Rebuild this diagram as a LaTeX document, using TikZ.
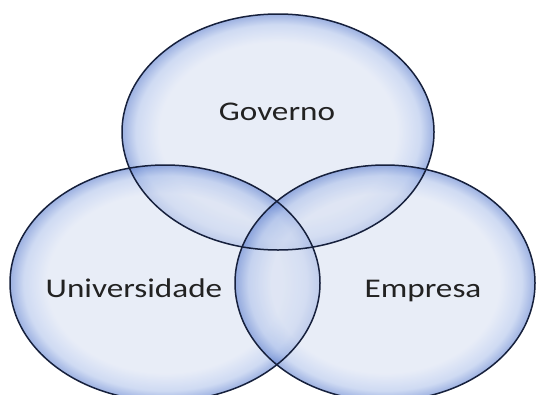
\documentclass[tikz,border=0pt]{standalone}
\usepackage{fontspec}
\setmainfont{Carlito}
\definecolor{pale}{HTML}{D8E0F2}
\definecolor{glowmid}{HTML}{ACC0EA}
\definecolor{glowblue}{HTML}{5679CC}
\definecolor{rimline}{HTML}{16203C}
\definecolor{txt}{HTML}{222222}
\pgfdeclareradialshading{bubble}{\pgfpointorigin}{color(0bp)=(pale); color(19bp)=(pale); color(22.8bp)=(glowmid); color(25bp)=(glowblue); color(50bp)=(glowblue)}
\tikzset{
  bubblefill/.style={shading=bubble, fill opacity=0.58},
  bubblerim/.style={draw=rimline, line width=1.5pt},
  lbl/.style={anchor=base, text=txt, font=\fontsize{27}{32}\selectfont, xscale=1.23, inner sep=0pt}
}
\begin{document}
\begin{tikzpicture}[x=1pt,y=-1pt]
\useasboundingbox (0,0) rectangle (537,394);
\begin{scope}
\clip (0,0) rectangle (537,394);
\shade[bubblefill] (278,132) ellipse [x radius=156, y radius=118];
\shade[bubblefill] (165,283) ellipse [x radius=155, y radius=118];
\shade[bubblefill] (385,283) ellipse [x radius=150, y radius=118];
\draw[bubblerim] (278,132) ellipse [x radius=156, y radius=118];
\draw[bubblerim] (165,283) ellipse [x radius=155, y radius=118];
\draw[bubblerim] (385,283) ellipse [x radius=150, y radius=118];
\end{scope}
\node[lbl] (gov) at (277,120) {Governo};
\node[lbl] (uni) at (134,297) {Universidade};
\node[lbl] (emp) at (423,297) {Empresa};
\end{tikzpicture}
\end{document}
